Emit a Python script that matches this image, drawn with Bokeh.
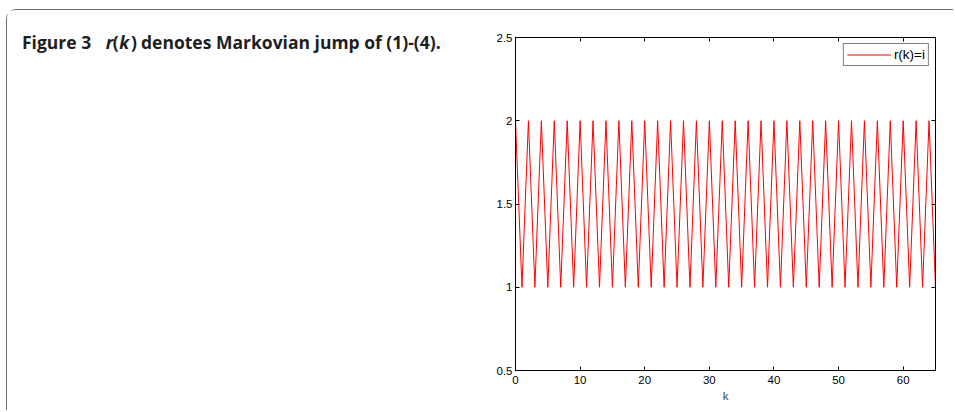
from bokeh.plotting import figure
from bokeh.layouts import row, column
from bokeh.models import (Range1d, LinearAxis, FixedTicker, Legend,
                          LegendItem, ColumnDataSource)
from bokeh.core.properties import value
from bokeh.embed import file_html
from bokeh.resources import INLINE

# ---- data ----
k = list(range(0, 66))
r_k = [2, 1, 2, 1, 2, 1, 2, 1, 2, 1,
       2, 1, 2, 1, 2, 1, 2, 1, 2, 1,
       2, 1, 2, 1, 2, 1, 2, 1, 2, 1,
       2, 1, 2, 1, 2, 1, 2, 1, 2, 1,
       2, 1, 2, 1, 2, 1, 2, 1, 2, 1,
       2, 1, 2, 1, 2, 1, 2, 1, 2, 1,
       2, 1, 2, 1, 2, 1]
x_ticks = [0, 10, 20, 30, 40, 50, 60]
x_tick_labels = ["0", "10", "20", "30", "40", "50", "60"]
y_ticks = [0.5, 1, 1.5, 2, 2.5]
y_tick_labels = ["0.5", "1", "1.5", "2", "2.5"]
x_label = "k"
legend_label = "r(k)=i"
caption_parts = ["Figure 3", "r", "(", "k", ")", "denotes Markovian jump of (1)-(4)."]
caption_styles = ["bold", "bold italic", "bold", "bold italic", "bold", "bold"]

# ---- layout (pixels) ----
CAP_W, PLOT_W, H = 480, 466, 400
caption_x = [14.5, 98.2, 105.3, 111.8, 123.6, 133.5]
caption_y = 31.2
TICK_FONT = "Liberation Sans"
BORDER = "1.5px solid #6e6e6e"

# ---- caption panel ----
cap = figure(width=CAP_W, height=H, output_backend="svg", toolbar_location=None,
             title=None, x_range=Range1d(0, CAP_W), y_range=Range1d(H, 0),
             min_border=0, x_axis_location=None, y_axis_location=None)
cap.grid.visible = False
cap.outline_line_color = None
cap_src = ColumnDataSource(dict(x=caption_x, y=[caption_y] * len(caption_parts),
                                text=caption_parts, style=caption_styles))
cap.text(x="x", y="y", text="text", source=cap_src,
         text_font=value("Open Sans"), text_font_style="style",
         text_font_size=value("17.5px"), text_color="#1e1e1e",
         text_baseline="alphabetic", text_align="left")

# ---- plot panel ----
p = figure(width=PLOT_W, height=H, output_backend="svg", toolbar_location=None,
           title=None, x_range=Range1d(0, 65), y_range=Range1d(0.5, 2.5),
           min_border_left=28, min_border_right=18,
           min_border_top=27, min_border_bottom=40)
p.grid.visible = False
p.outline_line_color = "black"


def style_axis(ax, ticks, labels, show_labels):
    ax.ticker = FixedTicker(ticks=ticks)
    ax.major_label_overrides = {t: l for t, l in zip(ticks, labels)}
    ax.axis_line_color = "black"
    ax.axis_line_width = 1
    ax.major_tick_in = 4
    ax.major_tick_out = 0
    ax.major_tick_line_color = "black"
    ax.minor_tick_line_color = None
    ax.major_label_text_font = TICK_FONT
    if show_labels:
        ax.major_label_text_font_size = "11.5px"
        ax.major_label_text_color = "black"
        ax.major_label_standoff = 3
    else:
        ax.major_label_text_font_size = "1px"
        ax.major_label_text_color = None
        ax.major_label_standoff = 0


style_axis(p.xaxis[0], x_ticks, x_tick_labels, True)
style_axis(p.yaxis[0], y_ticks, y_tick_labels, True)
p.xaxis[0].major_label_standoff = 5
p.xaxis[0].axis_label = x_label
p.xaxis[0].axis_label_text_font = TICK_FONT
p.xaxis[0].axis_label_text_font_size = "11.5px"
p.xaxis[0].axis_label_text_font_style = "normal"
p.xaxis[0].axis_label_standoff = 3

top_ax = LinearAxis()
right_ax = LinearAxis()
style_axis(top_ax, x_ticks, x_tick_labels, False)
style_axis(right_ax, y_ticks, y_tick_labels, False)
p.add_layout(top_ax, "above")
p.add_layout(right_ax, "right")

line = p.line(k, r_k, line_color="#ff0000", line_width=1)

legend = Legend(items=[LegendItem(label=legend_label, renderers=[line])],
                location="top_right")
legend.margin = 6
legend.padding = 3
legend.glyph_width = 44
legend.glyph_height = 13
legend.label_height = 13
legend.label_standoff = 3
legend.label_text_font = TICK_FONT
legend.label_text_font_size = "13.5px"
legend.label_text_color = "black"
legend.border_line_color = "black"
legend.border_line_width = 1
legend.background_fill_alpha = 1
p.add_layout(legend, "center")

layout = row(column(cap), p, styles={"margin-left": "6px", "margin-top": "9px",
                                     "border-top": BORDER, "border-left": BORDER,
                                     "border-top-left-radius": "10px"})

open("out.html", "w").write(file_html(layout, INLINE))
